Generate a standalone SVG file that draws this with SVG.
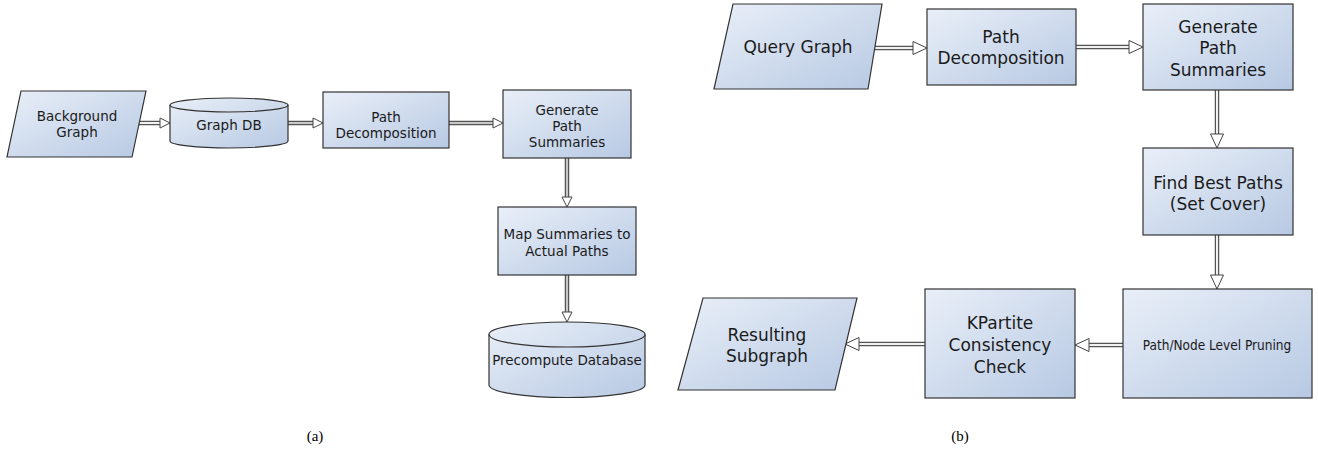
<svg xmlns="http://www.w3.org/2000/svg" width="1318" height="460" viewBox="0 0 1318 460">
<defs>
<linearGradient id="fillg" x1="0" y1="0" x2="1" y2="1">
<stop offset="0" stop-color="#e9eff8"/>
<stop offset="1" stop-color="#b7c9e3"/>
</linearGradient>
<style>
.shape{fill:url(#fillg);stroke:#333;stroke-width:1.2}
.ta{font-family:"DejaVu Sans",sans-serif;font-size:13.5px;fill:#1a1a1a;text-anchor:middle}
.tb{font-family:"DejaVu Sans",sans-serif;font-size:17px;fill:#1a1a1a;text-anchor:middle}
.tc{font-family:"DejaVu Sans Condensed","DejaVu Sans",sans-serif;font-size:13.5px;fill:#1a1a1a;text-anchor:middle}
.cap{font-family:"Liberation Serif",serif;font-size:15px;fill:#000;text-anchor:middle}
.so{fill:none;stroke:#555;stroke-width:4.5}
.si{fill:none;stroke:#c8c8c8;stroke-width:2}
.sib{fill:none;stroke:#f2f2f2;stroke-width:2}
.head{fill:#fff;stroke:#444;stroke-width:1}
</style>
</defs>
<rect width="1318" height="460" fill="#fff"/>

<g id="connectors">
<!-- (a) -->
<path class="so" d="M139,123H161"/><path class="sib" d="M139,123H161"/>
<polygon class="head" points="160,118 170,123 160,128"/>
<path class="so" d="M288,123H314"/><path class="si" d="M288,123H314"/>
<polygon class="head" points="313,118 323,123 313,128"/>
<path class="so" d="M449,123H494"/><path class="si" d="M449,123H494"/>
<polygon class="head" points="493,118 503,123 493,128"/>
<path class="so" d="M567,158V198"/><path class="si" d="M567,158V198"/>
<polygon class="head" points="562,197 567,207 572,197"/>
<path class="so" d="M567,275V313"/><path class="si" d="M567,275V313"/>
<polygon class="head" points="562,312 567,322 572,312"/>
<!-- (b) -->
<path class="so" d="M875,48H914"/><path class="sib" d="M875,48H914"/>
<polygon class="head" points="913,41.5 927,48 913,54.5"/>
<path class="so" d="M1076,47H1130"/><path class="sib" d="M1076,47H1130"/>
<polygon class="head" points="1129,40.5 1143,47 1129,53.5"/>
<path class="so" d="M1217,90V135"/><path class="sib" d="M1217,90V135"/>
<polygon class="head" points="1210.5,134 1217,148 1223.5,134"/>
<path class="so" d="M1217,235V276"/><path class="sib" d="M1217,235V276"/>
<polygon class="head" points="1210.5,275 1217,289 1223.5,275"/>
<path class="so" d="M1123,345H1088"/><path class="sib" d="M1123,345H1088"/>
<polygon class="head" points="1089,338.5 1075,345 1089,351.5"/>
<path class="so" d="M925,344H858"/><path class="sib" d="M925,344H858"/>
<polygon class="head" points="859,337.5 845,344 859,350.5"/>
</g>

<!-- (a) nodes -->
<g id="background-graph">
<polygon class="shape" points="21,91 146,91 132,157 7,157"/>
<text class="ta" x="77" y="121">Background</text>
<text class="ta" x="77" y="137">Graph</text>
</g>
<g id="graph-db">
<path class="shape" d="M170,105 V141 A59,7 0 0 0 288,141 V105 A59,7 0 0 0 170,105 Z"/>
<path d="M170,105 A59,7 0 0 0 288,105" fill="none" stroke="#333" stroke-width="1.2"/>
<text class="ta" x="229" y="130">Graph DB</text>
</g>
<g id="path-decomposition-a">
<rect class="shape" x="323" y="92" width="126" height="56"/>
<text class="ta" x="386" y="122">Path</text>
<text class="ta" x="386" y="138">Decomposition</text>
</g>
<g id="generate-path-summaries-a">
<rect class="shape" x="503" y="90" width="128" height="68"/>
<text class="ta" x="567" y="115">Generate</text>
<text class="ta" x="567" y="131">Path</text>
<text class="ta" x="567" y="147">Summaries</text>
</g>
<g id="map-summaries">
<rect class="shape" x="498" y="207" width="138" height="68"/>
<text class="ta" x="567" y="239">Map Summaries to</text>
<text class="ta" x="567" y="256">Actual Paths</text>
</g>
<g id="precompute-database">
<path class="shape" d="M489,334.5 V385 A78,12.5 0 0 0 645,385 V334.5 A78,12.5 0 0 0 489,334.5 Z"/>
<path d="M489,334.5 A78,12.5 0 0 0 645,334.5" fill="none" stroke="#333" stroke-width="1.2"/>
<text class="ta" x="567" y="365">Precompute Database</text>
</g>

<!-- (b) nodes -->
<g id="query-graph">
<polygon class="shape" points="733,4 882,4 868,89 714,89"/>
<text class="tb" x="798" y="53">Query Graph</text>
</g>
<g id="path-decomposition-b">
<rect class="shape" x="927" y="9" width="149" height="76"/>
<text class="tb" x="1001" y="43">Path</text>
<text class="tb" x="1001" y="64">Decomposition</text>
</g>
<g id="generate-path-summaries-b">
<rect class="shape" x="1143" y="4" width="150" height="86"/>
<text class="tb" x="1218" y="33">Generate</text>
<text class="tb" x="1218" y="54">Path</text>
<text class="tb" x="1218" y="76">Summaries</text>
</g>
<g id="find-best-paths">
<rect class="shape" x="1143" y="148" width="150" height="87"/>
<text class="tb" x="1218" y="189">Find Best Paths</text>
<text class="tb" x="1218" y="210">(Set Cover)</text>
</g>
<g id="path-node-pruning">
<rect class="shape" x="1123" y="289" width="189" height="109"/>
<text class="tc" x="1217" y="350">Path/Node Level Pruning</text>
</g>
<g id="kpartite-check">
<rect class="shape" x="925" y="289" width="150" height="109"/>
<text class="tb" x="1000" y="329">KPartite</text>
<text class="tb" x="1000" y="351">Consistency</text>
<text class="tb" x="1000" y="373">Check</text>
</g>
<g id="resulting-subgraph">
<polygon class="shape" points="703,298 857,298 835,390 678,390"/>
<text class="tb" x="767" y="341">Resulting</text>
<text class="tb" x="767" y="362">Subgraph</text>
</g>

<text class="cap" x="315" y="441">(a)</text>
<text class="cap" x="960" y="441">(b)</text>
</svg>
